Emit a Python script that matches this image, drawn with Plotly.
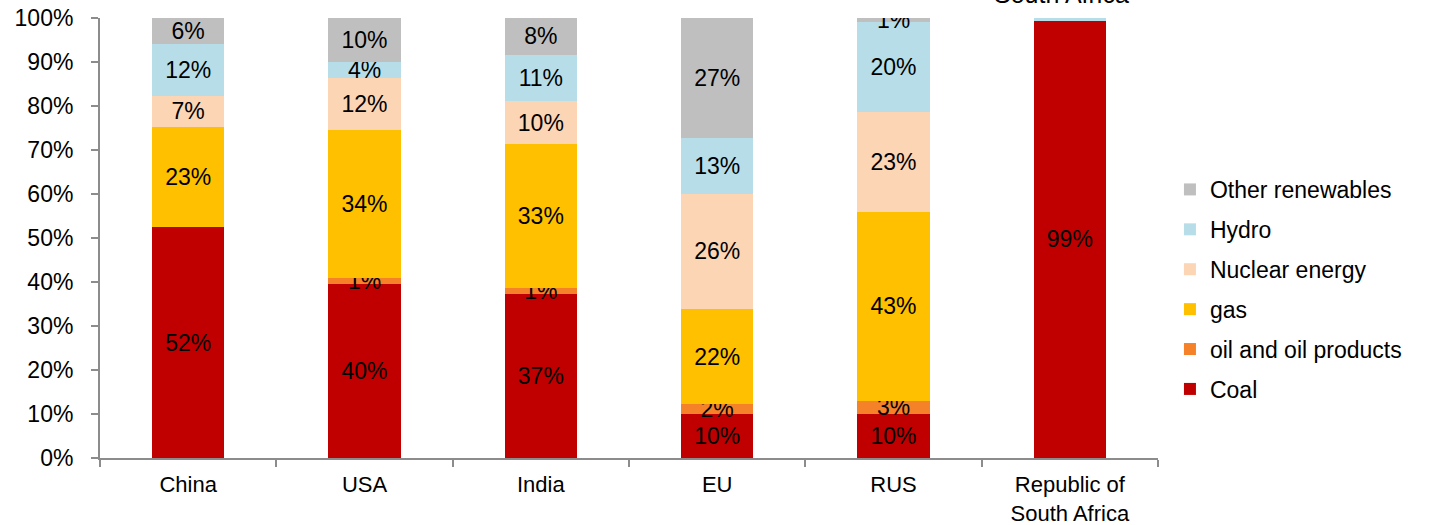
import plotly.graph_objects as go

# Electricity generation mix by source, share of total (%)
countries = ["China", "USA", "India", "EU", "RUS", "Republic of<br>South Africa"]

coal = [52.4, 39.6, 37.3, 10.0, 10.0, 99.4]
oil = [0.0, 1.2, 1.4, 2.2, 3.0, 0.0]
gas = [22.9, 33.8, 32.7, 21.6, 42.9, 0.0]
nuclear = [7.0, 11.8, 9.7, 26.3, 22.8, 0.0]
hydro = [11.9, 3.7, 10.6, 12.6, 20.3, 0.6]
other = [5.8, 9.9, 8.3, 27.3, 1.0, 0.0]

series = [
    ("Coal", coal, "#C00000"),
    ("oil and oil products", oil, "#F58229"),
    ("gas", gas, "#FFC000"),
    ("Nuclear energy", nuclear, "#FCD5B5"),
    ("Hydro", hydro, "#B7DEE8"),
    ("Other renewables", other, "#BFBFBF"),
]

y_ticks = [0, 10, 20, 30, 40, 50, 60, 70, 80, 90, 100]

FONT = "Liberation Sans, Arial, sans-serif"
FS = 23

fig = go.Figure()
for i, (name, vals, color) in enumerate(series):
    labels = [f"{v:.0f}%" if v >= 1 else "" for v in vals]
    fig.add_trace(go.Bar(
        x=countries,
        y=vals,
        name=name,
        legendgroup=name,
        legendrank=len(series) - i,
        marker=dict(color=color, line=dict(width=0)),
        text=labels,
        textposition="inside",
        insidetextanchor="middle",
        textangle=0,
        textfont=dict(family=FONT, size=FS, color="black"),
        hoverinfo="skip",
    ))

fig.update_layout(
    barmode="stack",
    bargap=0.59,
    width=1433,
    height=525,
    margin=dict(l=100, r=275, t=18, b=67),
    paper_bgcolor="white",
    plot_bgcolor="white",
    font=dict(family=FONT, size=FS, color="black"),
    uniformtext=dict(minsize=FS, mode="show"),
    showlegend=True,
    legend=dict(
        x=1.0113, xanchor="left",
        y=0.383, yanchor="middle",
        traceorder="grouped",
        tracegroupgap=7,
        font=dict(family=FONT, size=FS, color="black"),
        itemwidth=30,
        bgcolor="rgba(0,0,0,0)",
    ),
    annotations=[dict(
        text="South Africa",
        xref="paper", yref="paper",
        x=0.9085, y=1.018,
        xanchor="center", yanchor="bottom",
        showarrow=False,
        font=dict(family=FONT, size=25, color="black"),
    )],
)

fig.update_yaxes(
    range=[0, 100],
    tickvals=y_ticks,
    ticktext=[f"{t}%" for t in y_ticks],
    automargin=False,
    showgrid=False,
    zeroline=False,
    showline=True,
    linecolor="#8C8C8C",
    linewidth=2,
    ticks="outside",
    ticklen=7,
    tickwidth=2,
    tickcolor="#8C8C8C",
    ticklabelstandoff=13,
    tickfont=dict(family=FONT, size=FS, color="black"),
)

fig.update_xaxes(
    automargin=False,
    showgrid=False,
    showline=True,
    linecolor="#8C8C8C",
    linewidth=2,
    ticks="outside",
    tickson="boundaries",
    ticklen=7,
    tickwidth=2,
    tickcolor="#8C8C8C",
    ticklabelstandoff=6,
    tickfont=dict(family=FONT, size=22, color="black"),
)

fig.write_html("out.html")
